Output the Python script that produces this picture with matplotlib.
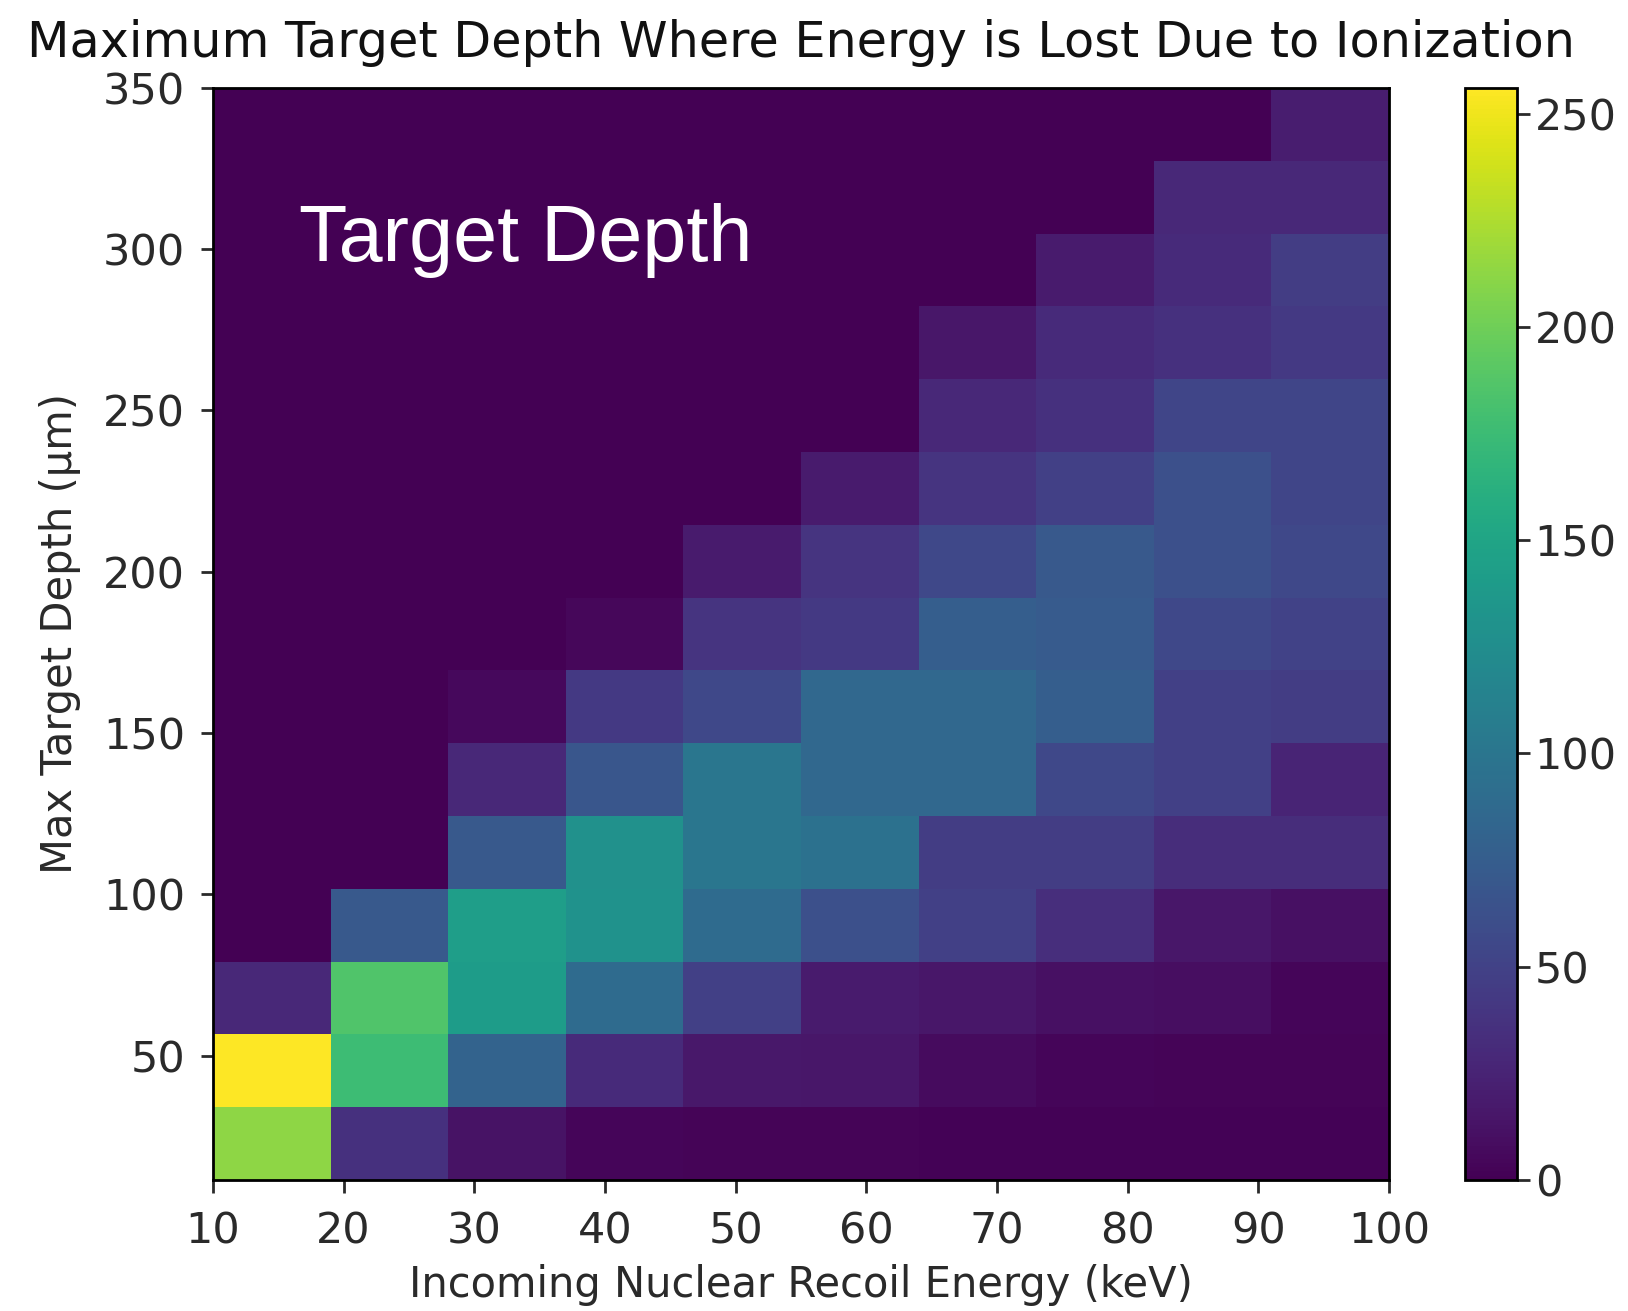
import numpy as np
import matplotlib
matplotlib.use("Agg")
import matplotlib.pyplot as plt

# energy bins (keV) and depth bins (um)
energy_edges = np.linspace(10, 100, 11)
depth_edges = np.linspace(11.4, 350, 16)

# counts per bin, one row per depth bin from the bottom up
counts = [
    [212, 35, 12, 3, 2, 2, 1, 1, 1, 1],
    [256, 175, 80, 30, 16, 15, 7, 3, 2, 2],
    [28, 185, 140, 88, 48, 18, 15, 10, 9, 3],
    [0, 70, 142, 130, 88, 62, 48, 33, 15, 10],
    [0, 0, 70, 128, 100, 95, 45, 45, 32, 32],
    [0, 0, 28, 68, 100, 85, 85, 55, 48, 25],
    [0, 0, 5, 42, 55, 85, 85, 75, 48, 45],
    [0, 0, 0, 4, 38, 42, 75, 72, 55, 50],
    [0, 0, 0, 0, 18, 38, 55, 70, 62, 55],
    [0, 0, 0, 0, 0, 18, 38, 48, 62, 52],
    [0, 0, 0, 0, 0, 0, 28, 35, 52, 52],
    [0, 0, 0, 0, 0, 0, 15, 30, 35, 42],
    [0, 0, 0, 0, 0, 0, 0, 18, 30, 45],
    [0, 0, 0, 0, 0, 0, 0, 0, 28, 28],
    [0, 0, 0, 0, 0, 0, 0, 0, 0, 20],
]

x_ticks = [10, 20, 30, 40, 50, 60, 70, 80, 90, 100]
y_ticks = [50, 100, 150, 200, 250, 300, 350]
cbar_ticks = [0, 50, 100, 150, 200, 250]

fs = 31
txt = "#2a2a2a"
fig = plt.figure(figsize=(16.28, 13.11), dpi=100)
ax = fig.add_axes([0.1308, 0.0999, 0.7224, 0.8330])
cax = fig.add_axes([0.900, 0.0999, 0.032, 0.8330])

mesh = ax.pcolormesh(energy_edges, depth_edges, np.array(counts), cmap="viridis")
ax.set_xlim(10, 100)
ax.set_ylim(depth_edges[0], 350)
ax.set_xticks(x_ticks)
ax.set_yticks(y_ticks)
ax.tick_params(labelsize=fs, length=9, width=2, colors=txt)
ax.tick_params(axis="x", pad=13)
ax.tick_params(axis="y", pad=11)
for s in ax.spines.values():
    s.set_linewidth(2)

ax.set_xlabel("Incoming Nuclear Recoil Energy (keV)", fontsize=30, color=txt, labelpad=8)
ax.set_ylabel("Max Target Depth (\u03bcm)", fontsize=30, color=txt, labelpad=16)
ax.set_title("Maximum Target Depth Where Energy is Lost Due to Ionization",
             fontsize=35.5, color="#111111", pad=22)

ax.text(0.073, 0.842, "Target Depth", transform=ax.transAxes, color="white",
        fontsize=57, family="Liberation Sans")

cb = fig.colorbar(mesh, cax=cax, ticks=cbar_ticks)
cb.ax.tick_params(labelsize=fs, length=9, width=2, colors=txt)
cb.outline.set_linewidth(2)

fig.savefig("out.png", dpi=100)
